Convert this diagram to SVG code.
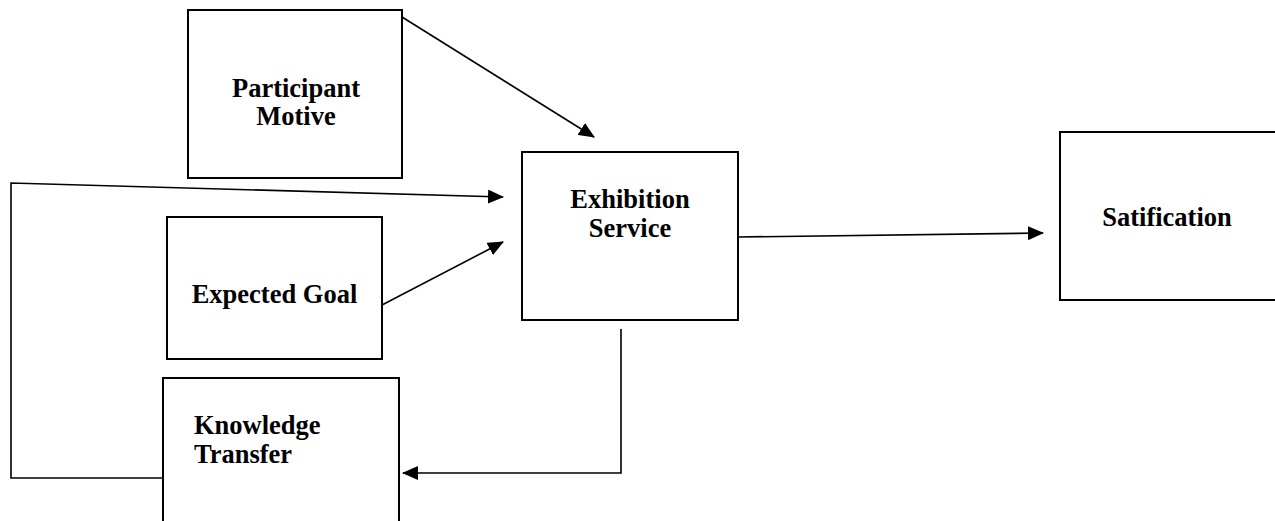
<svg xmlns="http://www.w3.org/2000/svg" width="1275" height="521" viewBox="0 0 1275 521">
<style>
.box{fill:#fff;stroke:#000;stroke-width:2}
.lbl{font-family:"Liberation Serif","Times New Roman",serif;font-weight:bold;font-size:26.5px;fill:#000}
.c{text-anchor:middle}
.edge{fill:none;stroke:#000;stroke-width:1.6}
</style>
<defs>
<marker id="ah" markerUnits="userSpaceOnUse" markerWidth="16" markerHeight="14" refX="15" refY="7" orient="auto">
<path d="M0,0 L16,7 L0,14 Z" fill="#000"/>
</marker>
</defs>
<g id="participant-motive">
<rect class="box" x="188" y="10" width="214" height="168"/>
<text class="lbl c" x="296" y="97">Participant</text>
<text class="lbl c" x="296" y="125">Motive</text>
</g>
<g id="exhibition-service">
<rect class="box" x="522" y="152" width="216" height="168"/>
<text class="lbl c" x="630" y="208">Exhibition</text>
<text class="lbl c" x="630" y="237">Service</text>
</g>
<g id="expected-goal">
<rect class="box" x="167" y="217" width="215" height="142"/>
<text class="lbl c" x="274.5" y="303">Expected Goal</text>
</g>
<g id="satification">
<rect class="box" x="1060" y="132" width="230" height="168"/>
<text class="lbl c" x="1167" y="226">Satification</text>
</g>
<g id="knowledge-transfer">
<rect class="box" x="163" y="378" width="236" height="160"/>
<text class="lbl" x="194" y="434">Knowledge</text>
<text class="lbl" x="194" y="463">Transfer</text>
</g>
<g id="connectors">
<line class="edge" x1="402" y1="17" x2="594" y2="137" marker-end="url(#ah)"/>
<line class="edge" x1="382" y1="305" x2="503" y2="242" marker-end="url(#ah)"/>
<polyline class="edge" points="163,478 11,478 11,183 503,197" marker-end="url(#ah)"/>
<line class="edge" x1="738" y1="237" x2="1043" y2="233" marker-end="url(#ah)"/>
<polyline class="edge" points="621,329 621,473 403,473" marker-end="url(#ah)"/>
</g>
</svg>
